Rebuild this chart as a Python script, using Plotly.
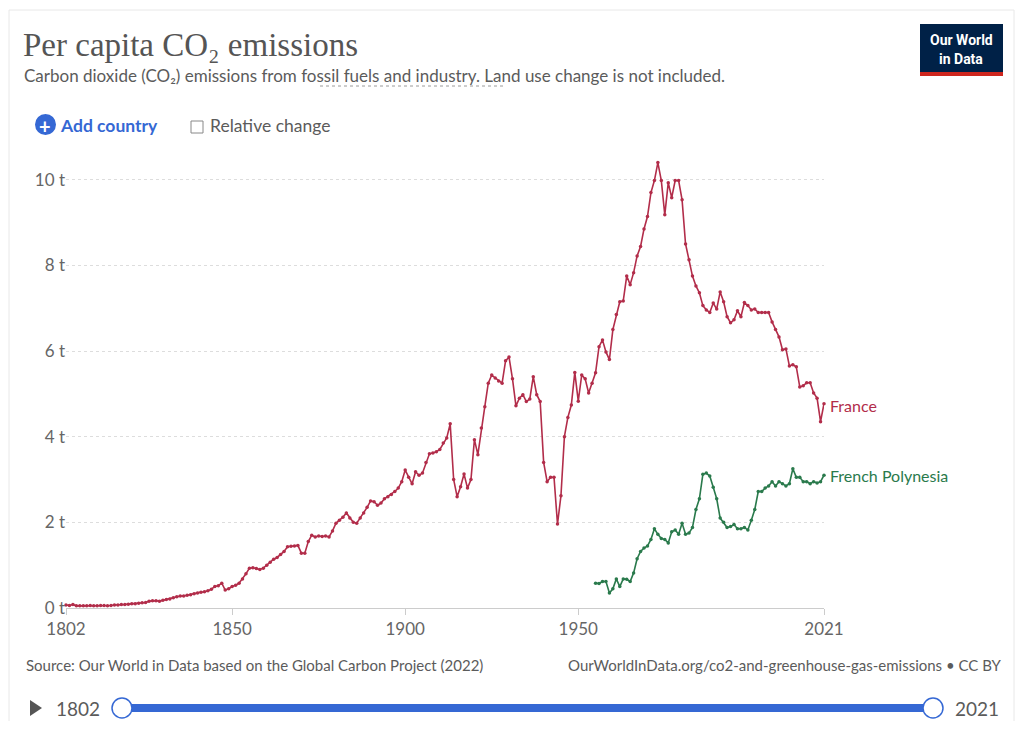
import plotly.graph_objects as go

# ---- data (tonnes CO2 per person) ----
france_years = list(range(1802, 2022))
france_co2 = [
    0.07, 0.06, 0.08, 0.05, 0.05, 0.05, 0.05, 0.06, 0.05, 0.05, 0.06, 0.06, 0.05, 0.06,  # 1802-1815
    0.07, 0.07, 0.08, 0.08, 0.09, 0.10, 0.10, 0.11, 0.12, 0.13,  # 1816-1825
    0.16, 0.17, 0.17, 0.16, 0.18, 0.20, 0.21, 0.24, 0.26, 0.28,  # 1826-1835
    0.28, 0.30, 0.31, 0.33, 0.35, 0.37, 0.38, 0.40, 0.44, 0.50,  # 1836-1845
    0.52, 0.58, 0.42, 0.45, 0.50, 0.53, 0.58, 0.68, 0.80, 0.93,  # 1846-1855
    0.94, 0.92, 0.90, 0.93, 1.00, 1.07, 1.14, 1.18, 1.25, 1.32,  # 1856-1865
    1.43, 1.44, 1.45, 1.46, 1.28, 1.28, 1.55, 1.70, 1.66, 1.68,  # 1866-1875
    1.67, 1.68, 1.66, 1.80, 1.98, 2.05, 2.12, 2.22, 2.10, 2.00,  # 1876-1885
    1.98, 2.10, 2.22, 2.35, 2.50, 2.48, 2.40, 2.45, 2.55, 2.60,  # 1886-1895
    2.65, 2.72, 2.80, 2.95, 3.22, 3.05, 2.90, 3.18, 3.10, 3.15,  # 1896-1905
    3.40, 3.60, 3.62, 3.65, 3.70, 3.85, 3.97, 4.30, 3.00, 2.60,  # 1906-1915
    2.83, 3.13, 2.80, 3.00, 3.93, 3.58, 4.20, 4.70, 5.25, 5.44,  # 1916-1925
    5.37, 5.30, 5.25, 5.77, 5.86, 5.35, 4.72, 4.90, 4.98, 4.82,  # 1926-1935
    4.88, 5.40, 4.98, 4.82, 3.40, 2.95, 3.05, 3.05, 1.96, 2.62,  # 1936-1945
    4.00, 4.45, 4.74, 5.50, 4.83, 5.44, 5.35, 5.02, 5.25, 5.49,  # 1946-1955
    6.10, 6.26, 5.98, 5.80, 6.50, 6.85, 7.15, 7.17, 7.75, 7.55,  # 1956-1965
    7.83, 8.22, 8.44, 8.85, 9.14, 9.70, 9.98, 10.40, 9.98, 9.18,  # 1966-1975
    9.93, 9.58, 9.98, 9.98, 9.53, 8.50, 8.13, 7.75, 7.52, 7.36,  # 1976-1985
    7.06, 6.96, 6.90, 7.12, 6.98, 7.38, 7.15, 6.80, 6.66, 6.73,  # 1986-1995
    6.94, 6.80, 7.13, 7.06, 6.96, 6.98, 6.90, 6.90, 6.90, 6.90,  # 1996-2005
    6.68, 6.50, 6.33, 6.03, 6.05, 5.65, 5.68, 5.63, 5.16, 5.19,  # 2006-2015
    5.26, 5.26, 5.02, 4.90, 4.35, 4.77,  # 2016-2021
]

polynesia_years = list(range(1955, 2022))
polynesia_co2 = [
    0.58, 0.57, 0.62, 0.62, 0.35, 0.45, 0.68, 0.50, 0.68, 0.67,  # 1955-1964
    0.62, 0.82, 1.15, 1.32, 1.40, 1.45, 1.60, 1.85, 1.72, 1.62,  # 1965-1974
    1.60, 1.52, 1.78, 1.82, 1.72, 1.98, 1.72, 1.75, 1.88, 2.30,  # 1975-1984
    2.55, 3.12, 3.15, 3.08, 2.82, 2.55, 2.10, 2.00, 1.88, 1.90,  # 1985-1994
    1.95, 1.85, 1.85, 1.88, 1.82, 2.05, 2.30, 2.72, 2.72, 2.80,  # 1995-2004
    2.85, 2.95, 2.85, 2.95, 2.90, 2.85, 2.90, 3.25, 3.05, 3.05,  # 2005-2014
    2.95, 2.95, 2.90, 2.95, 2.92, 2.95, 3.10,  # 2015-2021
]

x_ticks = [1802, 1850, 1900, 1950, 2021]
y_ticks = [0, 2, 4, 6, 8, 10]
y_tick_text = ["0 t", "2 t", "4 t", "6 t", "8 t", "10 t"]

FR_COL = "#b22d4a"
FP_COL = "#2a7a4c"
GREY = "#5b5b5b"

# page has an 8px body margin, so the figure is drawn 8px in from the window corner
OFF = 8
W, H = 1008, 713
# plot box in page pixels: left 66, right 824, top 154, bottom 608
L, R, T, B = 66, 824, 154, 608


def px(x):
    return (x - L) / (R - L)


def py(y):
    return (B - y) / (B - T)


fig = go.Figure()
fig.add_trace(go.Scatter(x=france_years, y=france_co2, mode="lines+markers", name="France",
                         line=dict(color=FR_COL, width=1.6),
                         marker=dict(size=3.5, color=FR_COL), cliponaxis=False))
fig.add_trace(go.Scatter(x=polynesia_years, y=polynesia_co2, mode="lines+markers", name="French Polynesia",
                         line=dict(color=FP_COL, width=1.6),
                         marker=dict(size=3.5, color=FP_COL), cliponaxis=False))

# series labels at the right end
fig.add_annotation(x=2021, y=france_co2[-1], text="France", showarrow=False, xanchor="left",
                   xshift=4, yshift=-2, font=dict(family="Lato", size=16, color=FR_COL))
fig.add_annotation(x=2021, y=polynesia_co2[-1], text="French Polynesia", showarrow=False,
                   xanchor="left", xshift=4, font=dict(family="Lato", size=16, color=FP_COL))

ann = []


def text(x, y, s, size, color=GREY, family="Lato", anchor="left", yanchor="middle"):
    ann.append(dict(x=px(x), y=py(y), xref="paper", yref="paper", text=s, showarrow=False,
                    xanchor=anchor, yanchor=yanchor, font=dict(family=family, size=size, color=color)))


def shape(**kw):
    kw.setdefault("xref", "paper")
    kw.setdefault("yref", "paper")
    return kw


# header
text(21, 45, "Per capita CO₂ emissions", 33, color="#555555", family="Liberation Serif")
text(22, 75, "Carbon dioxide (CO₂) emissions from fossil fuels and industry. Land use change is not included.", 17)
text(961, 40, "<b>Our World</b>", 14, color="white", family="Roboto", anchor="center")
text(961, 59, "<b>in Data</b>", 14, color="white", family="Roboto", anchor="center")
text(58, 125, "<b>Add country</b>", 17.5, color="#3568d4")
text(45, 126, "<b>+</b>", 20, color="white", anchor="center")
text(208, 125, "Relative change", 17.5)

# footer
text(24, 665, "Source: Our World in Data based on the Global Carbon Project (2022)", 15)
text(1004, 665, "OurWorldInData.org/co2-and-greenhouse-gas-emissions • CC BY", 15, anchor="right")
text(54, 708, "1802", 19)
text(1001, 708, "2021", 19, anchor="right")

shapes = [
    # outer frame (top and sides only)
    shape(type="path", path=f"M {px(9)},{py(729)} L {px(9)},{py(10)} L {px(1014)},{py(10)} L {px(1014)},{py(729)}",
          line=dict(color="#e8e8e8", width=1)),
    # logo
    shape(type="rect", x0=px(920), x1=px(1003), y0=py(24), y1=py(72), fillcolor="#002147", line=dict(width=0)),
    shape(type="rect", x0=px(920), x1=px(1003), y0=py(72), y1=py(76), fillcolor="#ce261e", line=dict(width=0)),
    # dashed underline under "fossil fuels and industry"
    shape(type="line", x0=px(320), x1=px(503), y0=py(86), y1=py(86),
          line=dict(color="#9a9a9a", width=1, dash="dot")),
    # add country plus circle
    shape(type="circle", x0=px(35), x1=px(56), y0=py(114), y1=py(135), fillcolor="#3568d4", line=dict(width=0)),
    # checkbox
    shape(type="rect", x0=px(191), x1=px(203), y0=py(121), y1=py(133), line=dict(color="#888", width=1)),
    # timeline
    shape(type="path", path=f"M {px(30)},{py(700)} L {px(42)},{py(708)} L {px(30)},{py(716)} Z",
          fillcolor="#555", line=dict(width=0)),
    shape(type="rect", x0=px(122), x1=px(933), y0=py(704), y1=py(712), fillcolor="#3568d4", line=dict(width=0)),
    shape(type="circle", x0=px(112), x1=px(132), y0=py(698), y1=py(718), fillcolor="white",
          line=dict(color="#3568d4", width=1.5)),
    shape(type="circle", x0=px(923), x1=px(943), y0=py(698), y1=py(718), fillcolor="white",
          line=dict(color="#3568d4", width=1.5)),
]

fig.update_layout(
    width=W, height=H,
    margin=dict(l=L - OFF, r=W - (R - OFF), t=T - OFF, b=H - (B - OFF)),
    paper_bgcolor="white", plot_bgcolor="white",
    showlegend=False,
    annotations=fig.layout.annotations + tuple(ann),
    shapes=shapes,
    xaxis=dict(range=[1802, 2021], tickvals=x_ticks, ticks="outside", ticklen=6, tickcolor="#cccccc",
               showline=True, linecolor="#cccccc", showgrid=False, zeroline=False,
               tickfont=dict(family="Lato", size=17, color="#666666")),
    yaxis=dict(range=[0, 10.6], tickvals=y_ticks, ticktext=y_tick_text, showgrid=True,
               gridcolor="#dddddd", griddash="dot", zeroline=False, showline=False,
               tickfont=dict(family="Lato", size=17, color="#666666")),
)

fig.write_html("out.html")
